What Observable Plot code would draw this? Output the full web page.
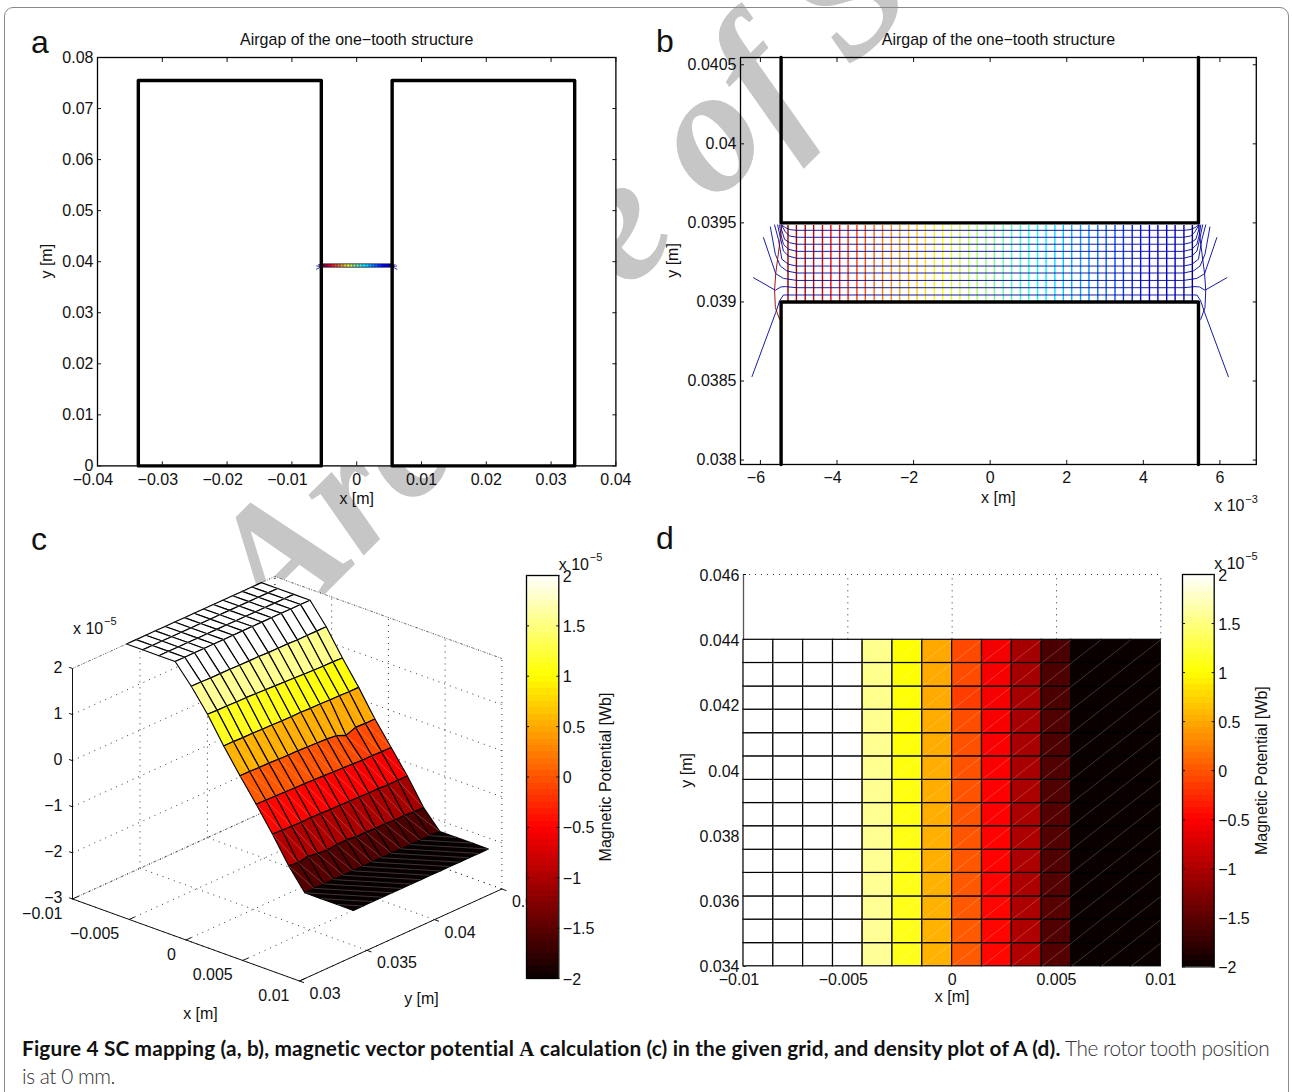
<!DOCTYPE html>
<html>
<head>
<meta charset="utf-8">
<script src="https://cdn.jsdelivr.net/npm/d3@7"></script>
<script src="https://cdn.jsdelivr.net/npm/@observablehq/plot@0.6"></script>
<style>
html,body{margin:0;padding:0;background:#fff;width:1292px;height:1092px;overflow:hidden}
#page{position:relative;width:1292px;height:1092px;overflow:hidden}
#card{position:absolute;left:4px;top:7px;width:1285px;height:1200px;border:1.5px solid #8a8a8a;border-radius:9px;box-sizing:border-box}
#back{position:absolute;left:0;top:0}
#caption{position:absolute;left:22px;top:1034px;width:1262px;font-family:Lato,"Open Sans",sans-serif;font-size:20.8px;line-height:27px;color:#333;white-space:nowrap;font-weight:300;letter-spacing:-0.45px}
#caption b{color:#111;font-weight:700;letter-spacing:0.16px}
#caption i{font-family:"Liberation Serif",serif;font-style:normal}
</style>
</head>
<body>
<div id="page">
  <svg id="back" width="1292" height="1092">
    <text transform="translate(277 642) rotate(-45)" font-family="Liberation Serif" font-style="italic" font-weight="bold" font-size="178" fill="#c6c6c6" xml:space="preserve">Archive of SID</text>
  </svg>
  <div id="card"></div>
  <div id="caption"><b>Figure 4 SC mapping (a, b), magnetic vector potential <i>A</i> calculation (c) in the given grid, and density plot of A (d).</b> The rotor tooth position<br>is at 0 mm.</div>
</div>
<script>
// ---------- values ----------
const titleText = "Airgap of the one\u2212tooth structure";
const cbLabel = "Magnetic Potential [Wb]";

// panel a
const aXTicks = [-0.04,-0.03,-0.02,-0.01,0,0.01,0.02,0.03,0.04];
const aYTicks = [0,0.01,0.02,0.03,0.04,0.05,0.06,0.07,0.08];
const aLeftX  = [-0.0337,-0.0337,-0.00546,-0.00546,-0.0337];
const aRightX = [0.00547,0.00547,0.03364,0.03364,0.00547];
const aOutlineY = [0,0.0755,0.0755,0,0];
const gapY = [0.039,0.0395];

// panel b (mm, x10^-3 m)
const bXTicks = [-6,-4,-2,0,2,4,6];
const bYTicks = [0.038,0.0385,0.039,0.0395,0.04,0.0405];
const wallX = [-5.46,5.44];
const gridX = [-5.28,-5.06,-4.83,-4.61,-4.38,-4.16,-3.93,-3.71,-3.48,-3.26,-3.03,-2.81,-2.58,-2.36,-2.13,-1.91,-1.69,-1.46,-1.24,-1.01,-0.79,-0.56,-0.34,-0.11,0.11,0.34,0.56,0.79,1.01,1.24,1.46,1.69,1.91,2.13,2.36,2.58,2.81,3.03,3.26,3.48,3.71,3.93,4.16,4.38,4.61,4.83,5.06,5.28];
const gridYRange = [39.006,39.487];
// left half of each mapped grid line, outer end first
const flares = [
  [[-5.44,39.487],[-5.35,39.470],[-5.22,39.457],[-5.05,39.453]],
  [[-5.44,39.482],[-5.35,39.444],[-5.24,39.417],[-5.05,39.409]],
  [[-5.465,39.487],[-5.45,39.459],[-5.37,39.396],[-5.24,39.375],[-5.05,39.365]],
  [[-5.50,39.487],[-5.465,39.428],[-5.40,39.365],[-5.265,39.333],[-5.05,39.320]],
  [[-5.55,39.487],[-5.48,39.407],[-5.40,39.322],[-5.265,39.290],[-5.05,39.276]],
  [[-5.63,39.487],[-5.53,39.396],[-5.44,39.270],[-5.265,39.238],[-5.05,39.227]],
  [[-5.74,39.474],[-5.61,39.301],[-5.48,39.227],[-5.31,39.196],[-5.05,39.183]],
  [[-5.92,39.407],[-5.60,39.179],[-5.40,39.149],[-5.05,39.136]],
  [[-6.18,39.153],[-5.61,39.074],[-5.465,39.095],[-5.35,39.097],[-5.05,39.090]],
  [[-6.22,38.528],[-5.60,38.933],[-5.50,39.006],[-5.40,39.044],[-5.05,39.044]]
];
const outerCurve = [[-5.50,38.890],[-5.61,38.964],[-5.63,39.074],[-5.60,39.179],[-5.50,39.365],[-5.44,39.487]];
const jetRange = ["#00008f","#0000ff","#00ffff","#ffff00","#ff0000","#800000"];

// panel c/d surface
const xNodes = [-0.01,-0.00857,-0.00714,-0.00571,-0.00429,-0.00286,-0.00143,0,0.00143,0.00286,0.00429,0.00571,0.00714,0.00857,0.01];
const yNodes = [0.034,0.03471,0.03543,0.03614,0.03686,0.03757,0.03829,0.039,0.03971,0.04043,0.04114,0.04186,0.04257,0.04329,0.044];
const A = [
 [2,2,2,2,1.59,1.11,0.55,0.03,-0.46,-0.98,-1.54,-2,-2,-2,-2],
 [2,2,2,2,1.59,1.10,0.55,0.03,-0.47,-0.99,-1.57,-2,-2,-2,-2],
 [2,2,2,2,1.58,1.10,0.54,0.02,-0.47,-1.00,-1.53,-2,-2,-2,-2],
 [2,2,2,2,1.58,1.09,0.54,0.02,-0.48,-1.01,-1.56,-2,-2,-2,-2],
 [2,2,2,2,1.58,1.09,0.53,0.01,-0.49,-1.00,-1.58,-2,-2,-2,-2],
 [2,2,2,2,1.57,1.08,0.53,0.00,-0.49,-1.01,-1.56,-2,-2,-2,-2],
 [2,2,2,2,1.57,1.07,0.52,0.00,-0.50,-1.02,-1.55,-2,-2,-2,-2],
 [2,2,2,2,1.57,1.06,0.52,-0.01,-0.51,-1.02,-1.58,-2,-2,-2,-2],
 [2,2,2,2,1.56,1.05,0.52,-0.02,-0.52,-1.03,-1.57,-2,-2,-2,-2],
 [2,2,2,2,1.56,1.04,0.51,-0.03,-0.53,-1.03,-1.59,-2,-2,-2,-2],
 [2,2,2,2,1.56,1.03,0.51,-0.05,-0.54,-1.04,-1.58,-2,-2,-2,-2],
 [2,2,2,2,1.55,1.02,0.50,-0.14,-0.55,-1.04,-1.60,-2,-2,-2,-2],
 [2,2,2,2,1.55,1.01,0.50,-0.06,-0.55,-1.05,-1.59,-2,-2,-2,-2],
 [2,2,2,2,1.55,1.01,0.49,-0.07,-0.56,-1.05,-1.61,-2,-2,-2,-2],
 [2,2,2,2,1.55,1.00,0.49,-0.07,-0.56,-1.05,-1.61,-2,-2,-2,-2]
];
const hotDomain = [-2,-0.5,1,2];
const hotRange = ["#0a0000","#ff0000","#ffff00","#ffffff"];
const cbTicks = [-2,-1.5,-1,-0.5,0,0.5,1,1.5,2];

// panel c axes
const cXTicks = [-0.01,-0.005,0,0.005,0.01];
const cYTicks = [0.03,0.035,0.04,0.045];
const cZTicks = [-3,-2,-1,0,1,2];
// panel d axes
const dXTicks = [-0.01,-0.005,0,0.005,0.01];
const dYTicks = [0.034,0.036,0.038,0.04,0.042,0.044,0.046];

// ---------- helpers ----------
const FONT = "Liberation Sans";
const FS = 16;
const fmt = d => String(d).replace("-","\u2212");
const zip = (xs,ys) => xs.map((x,i)=>({x,y:ys[i]}));
const page = document.getElementById("page");
function put(box, m, opts){
  const width = box.R-box.L+m.l+m.r, height = box.B-box.T+m.t+m.b;
  const el = Plot.plot({
    width, height,
    marginLeft:m.l, marginRight:m.r, marginTop:m.t, marginBottom:m.b,
    style:{fontFamily:FONT,fontSize:FS+"px",background:"transparent",color:"#111",maxWidth:"none",overflow:"visible"},
    ...opts
  });
  el.style.position="absolute";
  el.style.left=(box.L-m.l)+"px";
  el.style.top=(box.T-m.t)+"px";
  page.appendChild(el);
  return el;
}
const label = (t,frameAnchor,dx,dy,extra={}) => Plot.text([t],{frameAnchor,dx,dy,textAnchor:"middle",lineAnchor:"middle",fontSize:FS,fill:"#111",...extra});
const exponent = (frameAnchor,dx,dy,e) => [
  label("x 10",frameAnchor,dx,dy,{textAnchor:"start"}),
  label(e,frameAnchor,dx+31,dy-7,{textAnchor:"start",fontSize:11})
];
// negative labels sit a little left of their ticks, as in the reference
const xLabels = (ticks,pad) => [
  Plot.axisX({ticks:ticks.filter(t=>t<0),anchor:"bottom",tickSize:0,tickPadding:pad,tickFormat:fmt,stroke:"none",label:null,dx:-4.5}),
  Plot.axisX({ticks:ticks.filter(t=>t>=0),anchor:"bottom",tickSize:0,tickPadding:pad,tickFormat:fmt,stroke:"none",label:null})
];
const boxedAxes = (xt,yt,pad) => [
  Plot.axisX({ticks:xt,anchor:"bottom",tickSize:-4,fill:"none",label:null}),
  Plot.axisX({ticks:xt,anchor:"top",tickSize:-4,fill:"none",label:null}),
  Plot.axisY({ticks:yt,anchor:"left",tickSize:-4,fill:"none",label:null}),
  Plot.axisY({ticks:yt,anchor:"right",tickSize:-4,fill:"none",label:null}),
  ...xLabels(xt,pad),
  Plot.axisY({ticks:yt,anchor:"left",tickSize:0,tickPadding:4,tickFormat:fmt,stroke:"none",label:null})
];
const mapped = (scaleX,scaleY,swH,swV,vertOnTop) => {
  const rows = flares.flatMap((pts,id)=>{
    const left = pts.map(([x,y])=>({x:x*scaleX,y:y*scaleY,id:"L"+id}));
    const right = pts.slice().reverse().map(([x,y])=>({x:-x*scaleX,y:y*scaleY,id:"L"+id}));
    return left.concat(right);
  });
  const horiz = Plot.line(rows,{x:"x",y:"y",z:"id",stroke:"#00009a",strokeWidth:swH});
  const vert = Plot.link(gridX,{x1:d=>d*scaleX,x2:d=>d*scaleX,y1:gridYRange[0]*scaleY,y2:gridYRange[1]*scaleY,stroke:d=>d,strokeWidth:swV});
  const curveL = Plot.line(outerCurve.map(([x,y])=>({x:x*scaleX,y:y*scaleY})),{x:"x",y:"y",stroke:"#8a0000",strokeWidth:swH});
  const curveR = Plot.line(outerCurve.map(([x,y])=>({x:-x*scaleX,y:y*scaleY})),{x:"x",y:"y",stroke:"#00009a",strokeWidth:swH});
  return vertOnTop ? [horiz,vert,curveL,curveR] : [vert,horiz,curveL,curveR];
};
const jetColor = () => ({type:"linear",domain:[5.45,4.09,1.36,-1.36,-4.09,-5.45],range:jetRange});

// ---------- panel a ----------
put({L:97.2,R:615.6,T:57.3,B:465.7},{l:70,r:30,t:32,b:50},{
  x:{domain:[-0.04,0.04],axis:null},
  y:{domain:[0,0.08],axis:null},
  color:jetColor(),
  marks:[
    Plot.frame({fill:"white",stroke:"none"}),
    Plot.ruleY(gapY,{x1:aLeftX[2],x2:aRightX[0],stroke:"black",strokeWidth:1.6}),
    ...mapped(1e-3,1e-3,0.8,1.3,true),
    Plot.line(zip(aLeftX,aOutlineY),{x:"x",y:"y",stroke:"black",strokeWidth:3.4}),
    Plot.line(zip(aRightX,aOutlineY),{x:"x",y:"y",stroke:"black",strokeWidth:3.4}),
    Plot.frame({stroke:"black",strokeWidth:1.3}),
    ...boxedAxes(aXTicks,aYTicks,7.5),
    label(titleText,"top",0,-17.5),
    label("x [m]","bottom",0,33),
    label("y [m]","left",-50.5,-0.5,{rotate:-90})
  ]
});

// ---------- panel b ----------
put({L:740.4,R:1256.2,T:56.7,B:463.7},{l:70,r:30,t:32,b:50},{
  x:{domain:[-6.52,6.95],axis:null},
  y:{domain:[0.037972,0.040546],axis:null},
  color:jetColor(),
  marks:[
    ...mapped(1,1e-3,0.9,1.4,false),
    Plot.line(zip([wallX[0],wallX[0],wallX[1],wallX[1]],[0.040546,0.0395,0.0395,0.040546]),{x:"x",y:"y",stroke:"black",strokeWidth:3.4}),
    Plot.line(zip([wallX[0],wallX[0],wallX[1],wallX[1]],[0.037972,0.039,0.039,0.037972]),{x:"x",y:"y",stroke:"black",strokeWidth:3.4}),
    Plot.frame({stroke:"black",strokeWidth:1.3}),
    ...boxedAxes(bXTicks,bYTicks,7),
    label(titleText,"top",0,-17.5),
    label("x [m]","bottom",0,33),
    label("y [m]","left",-67.5,-0.5,{rotate:-90}),
    ...exponent("bottom-right",-42,41.5,"\u22123")
  ]
});

// ---------- panel c ----------
const viewU = {x:227,y:202.4};
const viewV = {x:1.779,y:1.996};
const pu = (x,y) => (x+0.01)/0.02*viewU.x + (y-0.03)/0.015*viewU.y;
const pv = (x,y,z) => z - (x+0.01)/0.02*viewV.x + (y-0.03)/0.015*viewV.y;
const seg = (a,b) => ({x1:pu(a[0],a[1]),y1:pv(...a),x2:pu(b[0],b[1]),y2:pv(...b)});
const links = (segs,o) => Plot.link(segs,{x1:"x1",y1:"y1",x2:"x2",y2:"y2",...o});
const zTop=2, zBot=-3, xa=-0.01, xb=0.01, ya=0.03, yb=0.045;

const dotted = [
  ...cXTicks.map(x=>seg([x,ya,zBot],[x,yb,zBot])),
  ...cYTicks.map(y=>seg([xa,y,zBot],[xb,y,zBot])),
  ...cYTicks.map(y=>seg([xa,y,zBot],[xa,y,zTop])),
  ...cZTicks.map(z=>seg([xa,ya,z],[xa,yb,z])),
  ...cXTicks.map(x=>seg([x,yb,zBot],[x,yb,zTop])),
  ...cZTicks.map(z=>seg([xa,yb,z],[xb,yb,z]))
];
const denseEdges = [seg([xa,ya,zTop],[xa,yb,zTop]),seg([xa,yb,zTop],[xb,yb,zTop]),seg([xa,ya,zBot],[xa,yb,zBot])];
const hexagon = [[xa,ya,zBot],[xb,ya,zBot],[xb,yb,zBot],[xb,yb,zTop],[xa,yb,zTop],[xa,ya,zTop],[xa,ya,zBot]].map(p=>({u:pu(p[0],p[1]),v:pv(...p)}));

const facets = [];
for(let j=13;j>=0;j--) for(let i=0;i<14;i++) facets.push({i,j,id:j*100+i,value:A[j][i]});
const facetVerts = facets.flatMap(f=>{
  const {i,j}=f;
  return [[i,j],[i+1,j],[i+1,j+1],[i,j+1],[i,j]].map(([a,b])=>({id:f.id,value:f.value,u:pu(xNodes[a],yNodes[b]),v:pv(xNodes[a],yNodes[b],A[b][a])}));
});
const diagonals = facets.map(f=>seg([xNodes[f.i],yNodes[f.j],A[f.j][f.i]],[xNodes[f.i+1],yNodes[f.j+1],A[f.j+1][f.i+1]]));
const pt = (x,y,z) => ({u:pu(x,y),v:pv(x,y,z)});

put({L:72.3,R:501.7,T:575.8,B:980.3},{l:60,r:30,t:24,b:48},{
  x:{domain:[0,viewU.x+viewU.y],axis:null},
  y:{domain:[zBot-viewV.x,zTop+viewV.y],axis:null},
  color:{type:"linear",domain:hotDomain,range:hotRange},
  marks:[
    Plot.line(hexagon,{x:"u",y:"v",fill:"white",stroke:"none"}),
    links(dotted,{stroke:"#333",strokeWidth:1,strokeDasharray:"1 5"}),
    links(denseEdges,{stroke:"#777",strokeWidth:1,strokeDasharray:"1 1.4"}),
    links([seg([xa,ya,zBot],[xa,ya,zTop]),seg([xa,ya,zBot],[xb,ya,zBot]),seg([xb,ya,zBot],[xb,yb,zBot])],{stroke:"#111",strokeWidth:1}),
    links(cZTicks.map(z=>seg([xa,ya,z],[xa-0.0003,ya,z])),{stroke:"#111",strokeWidth:1}),
    links(cXTicks.map(x=>seg([x,ya,zBot],[x,ya+0.0004,zBot])),{stroke:"#111",strokeWidth:1}),
    links(cYTicks.map(y=>seg([xb,y,zBot],[xb+0.0004,y,zBot])),{stroke:"#111",strokeWidth:1}),
    Plot.line(facetVerts,{x:"u",y:"v",z:"id",fill:"value",stroke:"black",strokeWidth:1.15,strokeLinejoin:"round"}),
    links(diagonals,{stroke:"white",strokeOpacity:0.3,strokeWidth:0.7}),
    Plot.text(cZTicks,{x:z=>pt(xa,ya,z).u,y:z=>pt(xa,ya,z).v,text:fmt,dx:-10,dy:-1,textAnchor:"end",fontSize:FS,fill:"#111"}),
    Plot.text(cXTicks,{x:x=>pt(x,ya,zBot).u,y:x=>pt(x,ya,zBot).v,text:fmt,dx:-10,dy:14.5,textAnchor:"end",fontSize:FS,fill:"#111"}),
    Plot.text(cYTicks,{x:y=>pt(xb,y,zBot).u,y:y=>pt(xb,y,zBot).v,text:fmt,dx:10,dy:13,textAnchor:"start",fontSize:FS,fill:"#111"}),
    label("x [m]","bottom-left",128,33),
    label("y [m]","bottom-left",349,18),
    ...exponent("top-left",0.5,52,"\u22125")
  ]
});

// colour bars
const cbLevels = d3.range(64).map(k=>-2+k/16);
const colorbar = (box,title) => put(box,{l:6,r:70,t:30,b:14},{
  x:{domain:[0,1],axis:null},
  y:{domain:[-2,2],axis:null},
  color:{type:"linear",domain:hotDomain,range:hotRange},
  marks:[
    Plot.frame({fill:"white",stroke:"none"}),
    Plot.rect(cbLevels,{x1:0,x2:1,y1:d=>d,y2:d=>d+1/16,fill:d=>d+1/32,shapeRendering:"crispEdges"}),
    Plot.frame({stroke:"black",strokeWidth:1.3}),
    Plot.axisY({ticks:cbTicks,anchor:"left",tickSize:-3,fill:"none",label:null}),
    Plot.axisY({ticks:cbTicks,anchor:"right",tickSize:-3,fill:"none",label:null}),
    Plot.axisY({ticks:cbTicks,anchor:"right",tickSize:0,tickPadding:4,tickFormat:fmt,stroke:"none",label:null,dy:1}),
    label(title,"right",47.5,0,{rotate:-90}),
    ...exponent("top-right",0,-11,"\u22125")
  ]
});
colorbar({L:526,R:558.3,T:575.3,B:978.3},cbLabel);

// ---------- panel d ----------
const cells = [];
for(let j=0;j<14;j++) for(let i=0;i<14;i++) cells.push({x1:xNodes[i],x2:xNodes[i+1],y1:yNodes[j],y2:yNodes[j+1],value:A[j][i]});
const gapTop = 0.044, axisTop = 0.046;
put({L:742.7,R:1160,T:574.2,B:966},{l:70,r:10,t:10,b:44},{
  x:{domain:[-0.01,0.01],axis:null},
  y:{domain:[0.034,axisTop],axis:null},
  color:{type:"linear",domain:hotDomain,range:hotRange},
  marks:[
    Plot.ruleX(dXTicks.slice(1),{y1:gapTop,y2:axisTop,stroke:"#333",strokeDasharray:"1 5"}),
    Plot.ruleY([axisTop],{x1:-0.01,x2:0.01,stroke:"#333",strokeDasharray:"1 5"}),
    Plot.ruleX([-0.01],{y1:0.034,y2:axisTop,stroke:"#555",strokeWidth:1.3}),
    Plot.axisY({ticks:dYTicks,anchor:"left",tickSize:-3,fill:"none",label:null}),
    Plot.rect(cells,{x1:"x1",x2:"x2",y1:"y1",y2:"y2",fill:"value",stroke:"black",strokeWidth:1.2}),
    Plot.link(cells,{x1:"x1",y1:"y1",x2:"x2",y2:"y2",stroke:"white",strokeOpacity:0.3,strokeWidth:0.7}),
    ...xLabels(dXTicks,7.5),
    Plot.axisY({ticks:dYTicks,anchor:"left",tickSize:0,tickPadding:4,tickFormat:fmt,stroke:"none",label:null,dy:1}),
    label("x [m]","bottom",0,31),
    label("y [m]","left",-56.5,0,{rotate:-90})
  ]
});
colorbar({L:1182.3,R:1214,T:574.3,B:966.7},cbLabel);

// panel letters
const back = document.getElementById("back");
[["a",31,53],["b",656,52],["c",31,550],["d",656,549]].forEach(([t,x,y])=>{
  const el = document.createElementNS("http://www.w3.org/2000/svg","text");
  el.setAttribute("x",x);el.setAttribute("y",y);
  el.setAttribute("font-family",FONT);el.setAttribute("font-size",32);el.setAttribute("fill","#111");
  el.textContent=t;back.appendChild(el);
});
</script>
</body>
</html>
